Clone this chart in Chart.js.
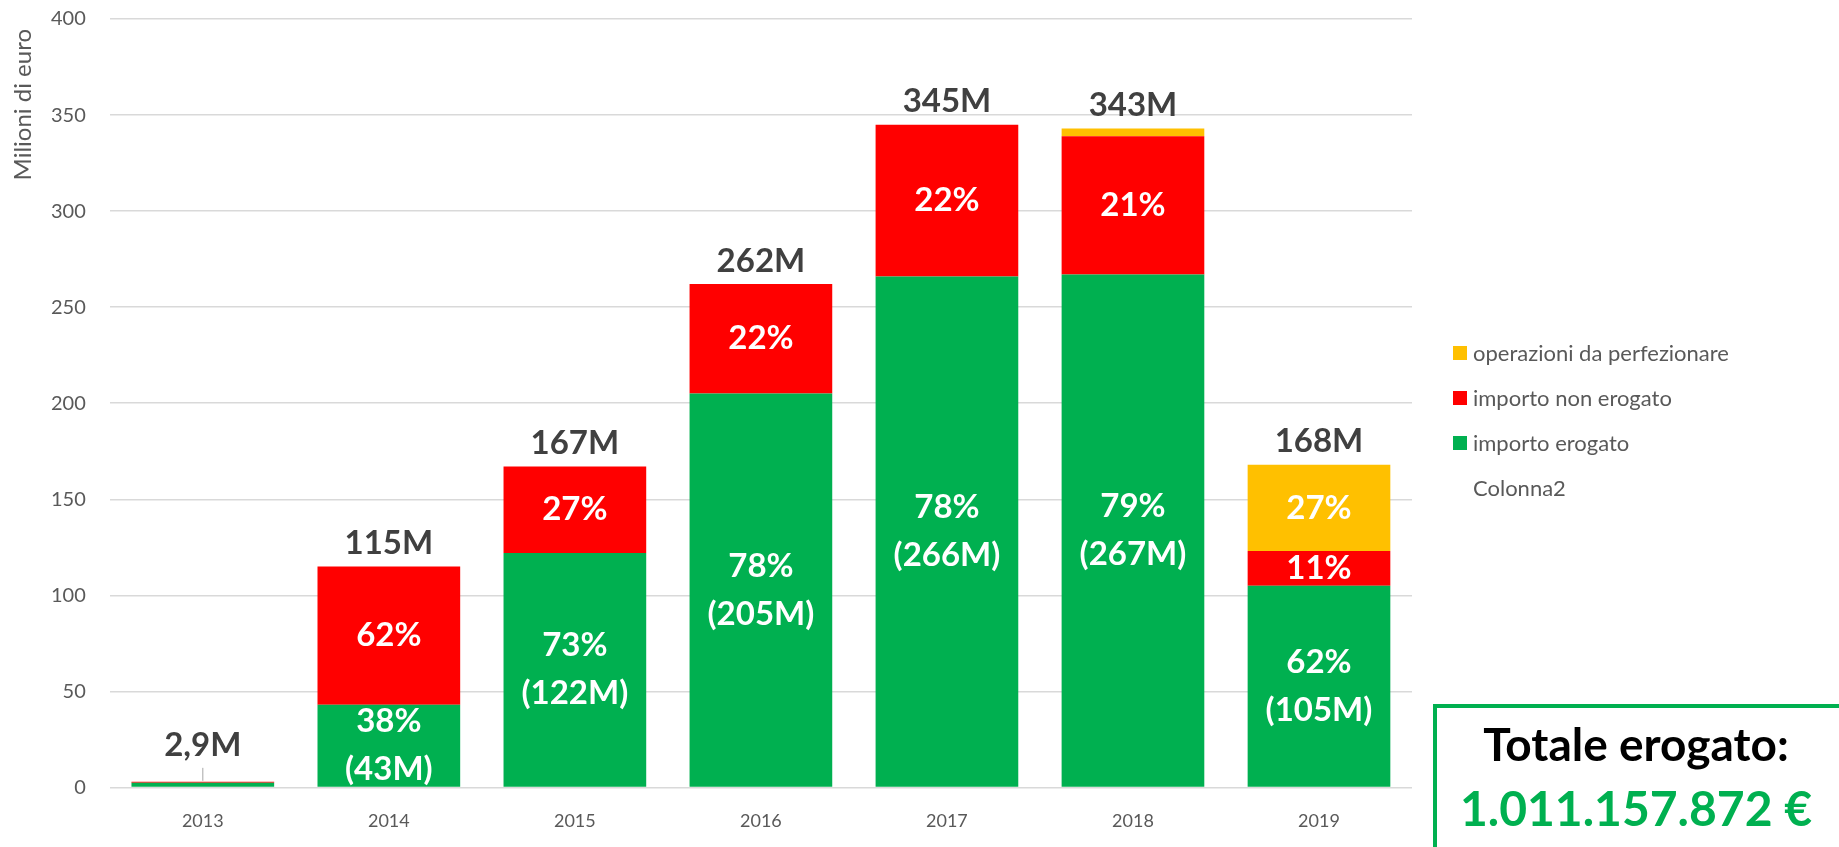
<!DOCTYPE html>
<html>
<head>
<meta charset="utf-8">
<script src="https://cdn.jsdelivr.net/npm/chart.js@4.4.0/dist/chart.umd.min.js"></script>
<style>
    body { margin: 0; background: #fff; overflow: hidden; font-family: Lato, "Open Sans", sans-serif; }
    #wrap { position: relative; width: 1839px; height: 847px; overflow: hidden; }
    #legenda { position: absolute; left: 1453px; top: 330px; }
    .voce { height: 45px; display: flex; align-items: center; font-size: 22px; color: #595959; }
    .quadro { width: 14px; height: 14px; margin-right: 6px; flex: none; }
    #box { position: absolute; left: 1433px; top: 704px; width: 430px; height: 170px; border: 4px solid #00b050; box-sizing: border-box; }
    .tot { position: absolute; left: 1433px; width: 406px; text-align: center; font-weight: bold; white-space: nowrap; line-height: 1.2; }
    #tot1 { top: 716px; font-size: 46px; color: #000; }
    #tot2 { top: 779px; font-size: 48px; color: #00b050; }
</style>
</head>
<body>
<div id="wrap">
    <canvas id="miGrafico" width="1839" height="847"></canvas>
    <div id="legenda"></div>
    <div id="box"></div>
    <div class="tot" id="tot1">Totale erogato:</div>
    <div class="tot" id="tot2">1.011.157.872 €</div>
</div>
<script>
// ------------------------------------------------------------------------------
// importi per anno (milioni di euro)
// ------------------------------------------------------------------------------
let anni = ['2013', '2014', '2015', '2016', '2017', '2018', '2019'];
let erogato = [2.4, 43, 122, 205, 266, 267, 105];
let nonErogato = [0.5, 72, 45, 57, 79, 72, 18];
let perfezionare = [0, 0, 0, 0, 0, 4, 45];

// percentuali scritte dentro le barre
let pctErogato = [null, 38, 73, 78, 78, 79, 62];
let pctNonErogato = [null, 62, 27, 22, 22, 21, 11];
let pctPerfezionare = [null, null, null, null, null, null, 27];

let yTicks = [0, 50, 100, 150, 200, 250, 300, 350, 400];
let titoloY = 'Milioni di euro';

Chart.defaults.font.family = 'Lato, "Open Sans", sans-serif';

let chartData = {
    labels: anni,
    datasets: [{
            label: 'importo erogato',
            data: erogato,
            backgroundColor: '#00b050',
        },
        {
            label: 'importo non erogato',
            data: nonErogato,
            backgroundColor: '#ff0000',
        },
        {
            label: 'operazioni da perfezionare',
            data: perfezionare,
            backgroundColor: '#ffc000',
        },
        {
            label: 'Colonna2',
            data: anni.map(() => null),
            backgroundColor: 'rgba(0,0,0,0)',
        }
    ],
};

// etichette sulle barre + titolo asse y (in alto, come in Excel)
const etichette = {
    id: 'etichette',
    afterDatasetsDraw(chart) {
        const ctx = chart.ctx;
        const scY = chart.scales.y;
        const pct = [pctErogato, pctNonErogato, pctPerfezionare];
        ctx.save();
        ctx.textAlign = 'center';
        ctx.textBaseline = 'middle';
        ctx.fillStyle = '#fff';
        ctx.font = 'bold 33px Lato, "Open Sans", sans-serif';
        pct.forEach((serie, d) => {
            const meta = chart.getDatasetMeta(d);
            serie.forEach((p, i) => {
                if (p == null) return;
                const bar = meta.data[i];
                const cy = (bar.y + bar.base) / 2;
                if (d === 0) {
                    ctx.fillText(p + '%', bar.x, cy - 24);
                    ctx.fillText('(' + erogato[i] + 'M)', bar.x, cy + 24);
                } else {
                    ctx.fillText(p + '%', bar.x, cy);
                }
            });
        });

        // totali sopra le colonne
        ctx.fillStyle = '#404040';
        ctx.font = 'bold 33px Lato, "Open Sans", sans-serif';
        const meta0 = chart.getDatasetMeta(0);
        anni.forEach((a, i) => {
            let tot = Math.round((erogato[i] + nonErogato[i] + perfezionare[i]) * 10) / 10;
            let top = scY.getPixelForValue(tot);
            let x = meta0.data[i].x;
            let txt = String(tot).replace('.', ',') + 'M';
            if (tot < 10) {
                ctx.strokeStyle = '#a6a6a6';
                ctx.lineWidth = 1;
                ctx.beginPath();
                ctx.moveTo(x, top - 1);
                ctx.lineTo(x, top - 14);
                ctx.stroke();
                ctx.fillText(txt, x, top - 36);
            } else {
                ctx.fillText(txt, x, top - 23);
            }
        });

        ctx.translate(23, chart.chartArea.top + 10);
        ctx.rotate(-Math.PI / 2);
        ctx.textAlign = 'right';
        ctx.fillStyle = '#595959';
        ctx.font = '24px Lato, "Open Sans", sans-serif';
        ctx.fillText(titoloY, 0, 0);
        ctx.restore();
    }
};

var mostrar = document.getElementById('miGrafico');
var grafico = new Chart(mostrar, {
    type: 'bar',
    data: chartData,
    plugins: [etichette],
    options: {
        responsive: false,
        animation: false,
        layout: { padding: { left: 47, right: 427, top: 19, bottom: 11 } },
        datasets: { bar: { categoryPercentage: 1, barPercentage: 0.767 } },
        plugins: {
            legend: { display: false },
            tooltip: { enabled: false },
        },
        scales: {
            x: {
                stacked: true,
                grid: { display: false, tickLength: 19 },
                border: { display: false },
                ticks: { color: '#595959', font: { size: 18 }, padding: 4 },
            },
            y: {
                stacked: true,
                min: 0,
                max: 400,
                afterBuildTicks: (ax) => { ax.ticks = yTicks.map(v => ({ value: v })); },
                grid: { color: '#d9d9d9', lineWidth: 1.5, tickLength: 20, tickColor: 'rgba(0,0,0,0)' },
                border: { display: false },
                ticks: { color: '#595959', font: { size: 20 }, padding: 4 },
            },
        },
    },
});

// legenda (ordine inverso, come nell'originale)
let legenda = document.getElementById('legenda');
chartData.datasets.slice(0, 3).reverse().concat(chartData.datasets.slice(3)).forEach(ds => {
    let riga = document.createElement('div');
    riga.className = 'voce';
    let q = document.createElement('span');
    q.className = 'quadro';
    q.style.background = ds.backgroundColor;
    riga.appendChild(q);
    riga.appendChild(document.createTextNode(ds.label));
    legenda.appendChild(riga);
});
</script>
</body>
</html>
